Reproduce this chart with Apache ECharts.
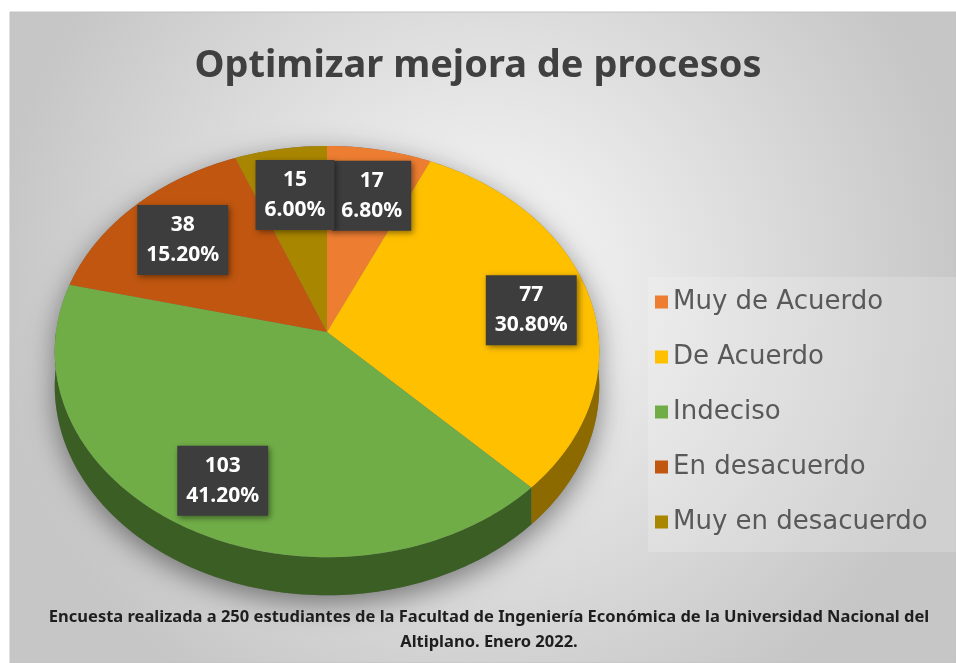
<!DOCTYPE html>
<html>
<head>
<meta charset="utf-8">
<script src="https://cdn.jsdelivr.net/npm/echarts@6/dist/echarts.min.js"></script>
<style>
  html, body { margin: 0; padding: 0; background: #fff; }
  #main { width: 956px; height: 663px; }
</style>
</head>
<body>
<div id="main"></div>
<script>
// datos de la encuesta
var categories = ['Muy de Acuerdo', 'De Acuerdo', 'Indeciso', 'En desacuerdo', 'Muy en desacuerdo'];
var counts = [17, 77, 103, 38, 15];
var topColors = ['#ED7D31', '#FFC000', '#70AD47', '#C0560F', '#A98600'];
var sideColors = ['#9A4F1C', '#8C6A00', '#3A5E24', '#6E3008', '#5E4A00'];
var titleText = 'Optimizar mejora de procesos';
var noteText = 'Encuesta realizada a 250 estudiantes de la Facultad de Ingeniería Económica de la Universidad Nacional del\nAltiplano. Enero 2022.';

var total = counts.reduce(function (a, b) { return a + b; }, 0);
var startAngles = [];
var acc = 0;
for (var i = 0; i < counts.length; i++) {
    startAngles.push(acc / total * 360);
    acc += counts[i];
}

// proyeccion del pastel 3D (angulo desde las 12, sentido horario)
var CX = 327, CY = 332, K = 271, SIN_E = 0.752, COS_E = 0.659, DIST = 6.92, THICK = 34.4;
function proj(phi, r, down) {
    var a = phi * Math.PI / 180;
    var x = r * Math.sin(a), z = -r * Math.cos(a);
    var f = DIST / (DIST - z * COS_E);
    return [CX + K * x * f, CY + K * SIN_E * z * f + (down ? THICK * f : 0)];
}
function rim(a, b, down) {
    var pts = [];
    var n = Math.max(2, Math.ceil(Math.abs(b - a)));
    for (var j = 0; j <= n; j++) {
        pts.push(proj(a + (b - a) * j / n, 1, down));
    }
    return pts;
}

function renderSlice(params, api) {
    var idx = params.seriesIndex;
    var a0 = startAngles[idx];
    var a1 = a0 + api.value(0) / total * 360;
    var children = [];

    if (idx === 0) {
        // sombra del contorno completo
        var outline = rim(270, 450, false).concat(rim(90, 270, true));
        children.push({
            type: 'polygon', z2: -1,
            shape: { points: outline },
            style: { fill: '#777', shadowBlur: 28, shadowColor: 'rgba(0,0,0,0.45)', shadowOffsetY: 8 }
        });
    }
    // pared lateral visible (mitad frontal)
    var s0 = Math.max(a0, 90), s1 = Math.min(a1, 270);
    if (s1 > s0) {
        var wall = rim(s0, s1, false).concat(rim(s0, s1, true).reverse());
        children.push({
            type: 'polygon', z2: 1,
            shape: { points: wall },
            style: { fill: sideColors[idx] }
        });
    }
    // cara superior
    var topPts = [[CX, CY]].concat(rim(a0, a1, false));
    children.push({
        type: 'polygon', z2: 5,
        shape: { points: topPts },
        style: { fill: topColors[idx] }
    });
    // etiqueta
    var lp = proj((a0 + a1) / 2, 0.76, false);
    var pct = (api.value(0) / total * 100).toFixed(2) + '%';
    children.push({
        type: 'text', z2: 10,
        x: lp[0] + 4, y: lp[1] + 5,
        style: {
            text: api.value(0) + '\n' + pct,
            fill: '#fff',
            font: 'bold 21px "Noto Sans"',
            lineHeight: 30,
            align: 'center',
            verticalAlign: 'middle',
            backgroundColor: '#3d3d3d',
            padding: [5, 9],
            shadowBlur: 6,
            shadowColor: 'rgba(0,0,0,0.45)',
            shadowOffsetX: 2,
            shadowOffsetY: 2
        }
    });
    return { type: 'group', children: children };
}

var series = categories.map(function (name, i) {
    return {
        name: name,
        type: 'custom',
        coordinateSystem: 'none',
        renderItem: renderSlice,
        itemStyle: { color: topColors[i] },
        data: [[counts[i]]],
        silent: true
    };
});

var chart = echarts.init(document.getElementById('main'), null, { renderer: 'canvas' });
chart.setOption({
    animation: false,
    graphic: [
        {
            type: 'rect', z: -10,
            shape: { x: 10, y: 12, width: 946, height: 651 },
            style: {
                fill: {
                    type: 'radial', x: 0.5, y: 0.42, r: 0.75,
                    colorStops: [{ offset: 0, color: '#f9f9f9' }, { offset: 1, color: '#c6c6c6' }]
                },
                stroke: '#c2c2c2', lineWidth: 1
            }
        },
        {
            type: 'rect', z: -9,
            shape: { x: 648, y: 277, width: 308, height: 275 },
            style: { fill: 'rgba(255,255,255,0.18)' }
        },
        {
            type: 'text', z: 10,
            x: 489, y: 605,
            style: {
                text: noteText,
                fill: '#1e1e1e',
                font: 'bold 16.5px "Noto Sans"',
                lineHeight: 25,
                align: 'center'
            }
        }
    ],
    title: {
        text: titleText,
        left: 'center',
        top: 42,
        textStyle: { fontSize: 38, fontWeight: 'bold', color: '#404040', fontFamily: 'Noto Sans' }
    },
    legend: {
        orient: 'vertical',
        left: 650,
        top: 282,
        icon: 'rect',
        itemWidth: 13,
        itemHeight: 13,
        itemGap: 25,
        data: categories,
        selectedMode: false,
        textStyle: { fontSize: 26, color: '#595959', fontFamily: 'DejaVu Sans', lineHeight: 30 }
    },
    series: series
});
</script>
</body>
</html>
